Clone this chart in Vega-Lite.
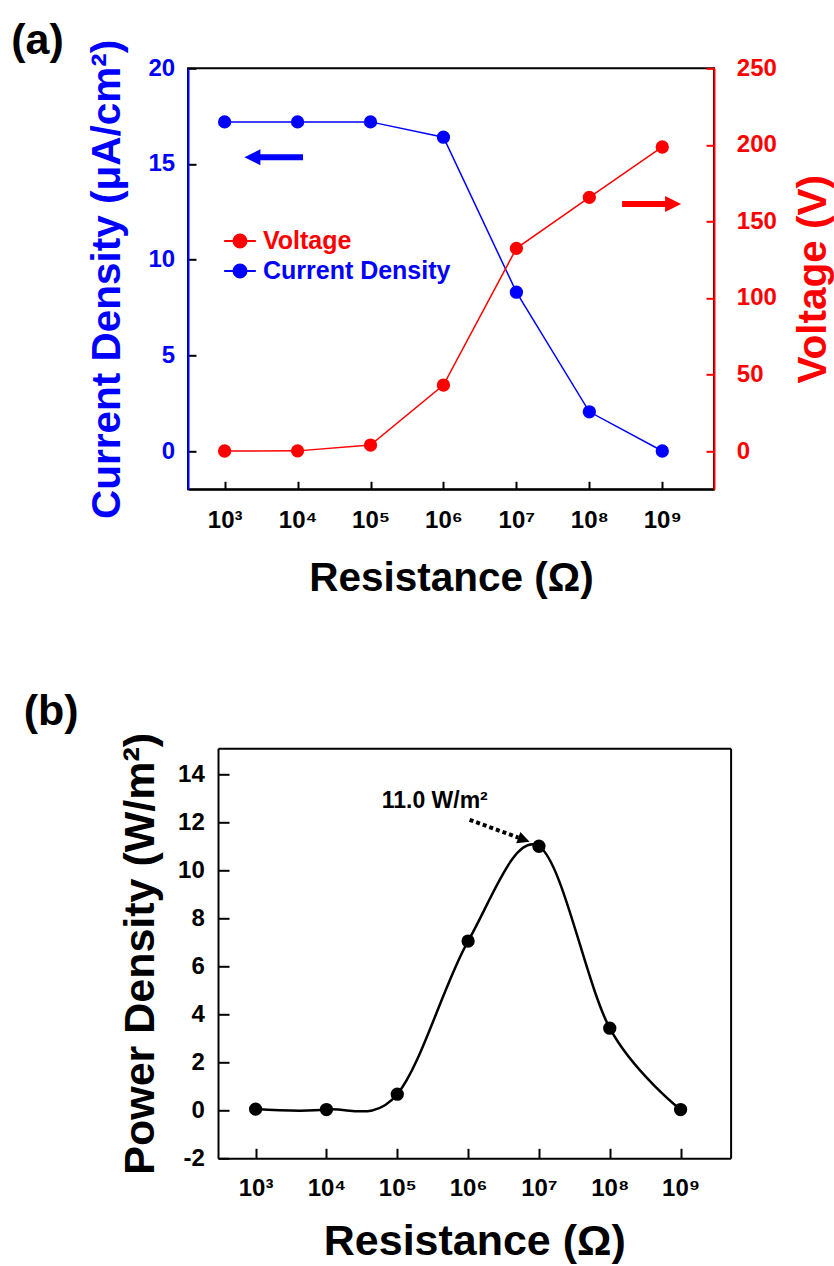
{
  "$schema": "https://vega.github.io/schema/vega-lite/v6.json",
  "background": "white",
  "padding": {"left": 10, "top": 19.3, "right": 5, "bottom": 0},
  "spacing": 90,
  "datasets": {
    "circuit": [
      {"log10R": 3, "current": 17.2, "voltage": 0},
      {"log10R": 4, "current": 17.2, "voltage": 0.1},
      {"log10R": 5, "current": 17.2, "voltage": 3.9},
      {"log10R": 6, "current": 16.4, "voltage": 43.1},
      {"log10R": 7, "current": 8.3, "voltage": 132.4},
      {"log10R": 8, "current": 2.05, "voltage": 165.7},
      {"log10R": 9, "current": 0, "voltage": 198.6}
    ],
    "power": [
      {"log10R": 3, "power": 0.05},
      {"log10R": 4, "power": 0.03},
      {"log10R": 5, "power": 0.67},
      {"log10R": 6, "power": 7.05},
      {"log10R": 7, "power": 11.0},
      {"log10R": 8, "power": 3.42},
      {"log10R": 9, "power": 0.03}
    ]
  },
  "vconcat": [
    {
      "width": 526,
      "height": 421,
      "title": {"text": "(a)", "anchor": "start", "frame": "group", "offset": 0, "dx": -176.7, "dy": 24.2, "baseline": "top", "fontSize": 43, "font": "Liberation Sans", "fontWeight": "bold", "color": "black"},
      "view": {"stroke": "black", "strokeWidth": 2},
      "data": {"name": "circuit"},
      "layer": [
        {
          "mark": {"type": "line", "strokeWidth": 1.5, "point": {"filled": true, "size": 177, "opacity": 1}},
          "encoding": {
            "x": {"field": "log10R", "type": "quantitative",
              "scale": {"domain": [2.498, 9.709], "nice": false, "zero": false},
              "axis": {"orient": "bottom", "values": [3, 4, 5, 6, 7, 8, 9],
                "labelExpr": "'10' + ['⁰','¹','²','³','⁴','⁵','⁶','⁷','⁸','⁹'][datum.value]",
                "title": "Resistance (Ω)", "tickSize": -8, "tickWidth": 2, "tickColor": "black",
                "domainColor": "black", "domainWidth": 2, "labelPadding": 27,
                "labelFontSize": 24, "labelFont": "Liberation Sans", "labelFontWeight": "bold", "labelColor": "black",
                "titleFontSize": 40.5, "titleFont": "Liberation Sans", "titleFontWeight": "bold", "titleColor": "black",
                "titlePadding": 26.5}},
            "y": {"field": "current", "type": "quantitative",
              "scale": {"domain": [-2, 20], "nice": false, "zero": false},
              "axis": {"orient": "left", "values": [0, 5, 10, 15, 20],
                "title": "Current Density (μA/cm²)", "tickSize": -8, "tickWidth": 2, "tickColor": "black",
                "domainColor": "#0000ff", "domainWidth": 2, "labelPadding": 21.4,
                "labelFontSize": 24, "labelFont": "Liberation Sans", "labelFontWeight": "bold", "labelColor": "#0000ff",
                "titleFontSize": 40.5, "titleFont": "Liberation Sans", "titleFontWeight": "bold", "titleColor": "#0000ff",
                "titlePadding": 19}},
            "color": {"datum": "Current Density",
              "scale": {"domain": ["Voltage", "Current Density"], "range": ["#ff0000", "#0000ff"]},
              "legend": {"orient": "none", "legendX": 35, "legendY": 155.7, "title": null, "padding": 0,
                "symbolType": "M-1,0L1,0M-0.41,0A0.41,0.41,0,1,0,0.41,0A0.41,0.41,0,1,0,-0.41,0Z",
                "symbolSize": 1000, "symbolStrokeWidth": 2, "labelFontSize": 25, "labelFont": "Liberation Sans",
                "labelFontWeight": "bold", "labelOffset": 6, "labelLimit": 400, "rowPadding": 0,
                "encode": {
                  "labels": {"update": {"fill": {"scale": "color", "field": "value"}}},
                  "symbols": {"update": {"fill": {"scale": "color", "field": "value"}, "stroke": {"scale": "color", "field": "value"}, "opacity": {"value": 1}}}
                }}}
          }
        },
        {
          "mark": {"type": "line", "strokeWidth": 1.5, "point": {"filled": true, "size": 177, "opacity": 1}},
          "encoding": {
            "x": {"field": "log10R", "type": "quantitative",
              "scale": {"domain": [2.498, 9.709], "nice": false, "zero": false}, "axis": null},
            "y": {"field": "voltage", "type": "quantitative",
              "scale": {"domain": [-25, 250], "nice": false, "zero": false},
              "axis": {"orient": "right", "values": [0, 50, 100, 150, 200, 250],
                "title": "Voltage (V)", "titleAngle": 270, "titleBaseline": "top",
                "tickSize": -8, "tickWidth": 2, "tickColor": "#ff0000",
                "domainColor": "#ff0000", "domainWidth": 2, "labelPadding": 30.3,
                "labelFontSize": 24, "labelFont": "Liberation Sans", "labelFontWeight": "bold", "labelColor": "#ff0000",
                "titleFontSize": 40.5, "titleFont": "Liberation Sans", "titleFontWeight": "bold", "titleColor": "#ff0000",
                "titlePadding": 17}},
            "color": {"datum": "Voltage",
              "scale": {"domain": ["Voltage", "Current Density"], "range": ["#ff0000", "#0000ff"]},
              "legend": {"orient": "none", "legendX": 35, "legendY": 155.7, "title": null, "padding": 0,
                "symbolType": "M-1,0L1,0M-0.41,0A0.41,0.41,0,1,0,0.41,0A0.41,0.41,0,1,0,-0.41,0Z",
                "symbolSize": 1000, "symbolStrokeWidth": 2, "labelFontSize": 25, "labelFont": "Liberation Sans",
                "labelFontWeight": "bold", "labelOffset": 6, "labelLimit": 400, "rowPadding": 0,
                "encode": {
                  "labels": {"update": {"fill": {"scale": "color", "field": "value"}}},
                  "symbols": {"update": {"fill": {"scale": "color", "field": "value"}, "stroke": {"scale": "color", "field": "value"}, "opacity": {"value": 1}}}
                }}}
          }
        },
        {
          "data": {"values": [{}]},
          "mark": {"type": "rule", "color": "#0000ff", "strokeWidth": 6},
          "encoding": {
            "x": {"datum": 4.075, "type": "quantitative", "scale": {"domain": [2.498, 9.709], "nice": false, "zero": false}, "axis": null},
            "x2": {"datum": 3.477},
            "y": {"datum": 15.35, "type": "quantitative", "scale": {"domain": [-2, 20], "nice": false, "zero": false}, "axis": null}
          }
        },
        {
          "data": {"values": [{}]},
          "mark": {"type": "point", "shape": "M0,0L2,-1L2,1Z", "filled": true, "color": "#0000ff", "size": 256, "opacity": 1},
          "encoding": {
            "x": {"datum": 3.271, "type": "quantitative", "scale": {"domain": [2.498, 9.709], "nice": false, "zero": false}, "axis": null},
            "y": {"datum": 15.35, "type": "quantitative", "scale": {"domain": [-2, 20], "nice": false, "zero": false}, "axis": null}
          }
        },
        {
          "data": {"values": [{}]},
          "mark": {"type": "rule", "color": "#ff0000", "strokeWidth": 6},
          "encoding": {
            "x": {"datum": 8.449, "type": "quantitative", "scale": {"domain": [2.498, 9.709], "nice": false, "zero": false}, "axis": null},
            "x2": {"datum": 9.052},
            "y": {"datum": 161.3, "type": "quantitative", "scale": {"domain": [-25, 250], "nice": false, "zero": false}, "axis": null}
          }
        },
        {
          "data": {"values": [{}]},
          "mark": {"type": "point", "shape": "M0,0L-2,-1L-2,1Z", "filled": true, "color": "#ff0000", "size": 256, "opacity": 1},
          "encoding": {
            "x": {"datum": 9.258, "type": "quantitative", "scale": {"domain": [2.498, 9.709], "nice": false, "zero": false}, "axis": null},
            "y": {"datum": 161.3, "type": "quantitative", "scale": {"domain": [-25, 250], "nice": false, "zero": false}, "axis": null}
          }
        }
      ],
      "resolve": {"scale": {"y": "independent"}, "axis": {"x": "independent"}}
    },
    {
      "width": 542.6,
      "height": 410,
      "title": {"text": "(b)", "anchor": "start", "frame": "group", "offset": 0, "dx": -164.3, "dy": 1.8, "baseline": "top", "fontSize": 43, "font": "Liberation Sans", "fontWeight": "bold", "color": "black"},
      "view": {"stroke": null},
      "data": {"name": "power"},
      "layer": [
        {
          "mark": {"type": "line", "interpolate": "cardinal", "color": "black", "strokeWidth": 2.5},
          "encoding": {
            "x": {"field": "log10R", "type": "quantitative",
              "scale": {"domain": [2.469, 9.706], "range": [30, 542.6], "nice": false, "zero": false},
              "axis": {"orient": "bottom", "values": [3, 4, 5, 6, 7, 8, 9],
                "labelExpr": "'10' + ['⁰','¹','²','³','⁴','⁵','⁶','⁷','⁸','⁹'][datum.value]",
                "title": "Resistance (Ω)", "tickSize": -10, "tickWidth": 2, "tickColor": "black",
                "domainColor": "black", "domainWidth": 2, "labelPadding": 28.2,
                "labelFontSize": 24, "labelFont": "Liberation Sans", "labelFontWeight": "bold", "labelColor": "black",
                "titleFontSize": 43, "titleFont": "Liberation Sans", "titleFontWeight": "bold", "titleColor": "black",
                "titlePadding": 20}},
            "y": {"field": "power", "type": "quantitative",
              "scale": {"domain": [-2, 15.08], "nice": false, "zero": false},
              "axis": {"orient": "left", "offset": -30, "values": [-2, 0, 2, 4, 6, 8, 10, 12, 14],
                "labelExpr": "datum.value < 0 ? '-' + abs(datum.value) : '' + datum.value",
                "title": "Power Density (W/m²)", "tickSize": -11, "tickWidth": 2, "tickColor": "black",
                "domainColor": "black", "domainWidth": 2, "labelPadding": 24.7,
                "labelFontSize": 24, "labelFont": "Liberation Sans", "labelFontWeight": "bold", "labelColor": "black",
                "titleFontSize": 43, "titleFont": "Liberation Sans", "titleFontWeight": "bold", "titleColor": "black",
                "titlePadding": 15.6}}
          }
        },
        {
          "mark": {"type": "point", "filled": true, "color": "black", "size": 177, "opacity": 1},
          "encoding": {
            "x": {"field": "log10R", "type": "quantitative",
              "scale": {"domain": [2.469, 9.706], "range": [30, 542.6], "nice": false, "zero": false},
              "axis": {"orient": "top", "labels": false, "ticks": false, "title": null, "domainColor": "black", "domainWidth": 2}},
            "y": {"field": "power", "type": "quantitative",
              "scale": {"domain": [-2, 15.08], "nice": false, "zero": false},
              "axis": {"orient": "right", "labels": false, "ticks": false, "title": null, "domainColor": "black", "domainWidth": 2}}
          }
        },
        {
          "data": {"values": [{}]},
          "mark": {"type": "rule", "color": "black", "strokeWidth": 4, "strokeDash": [4, 3]},
          "encoding": {
            "x": {"datum": 6.021, "type": "quantitative", "scale": {"domain": [2.469, 9.706], "range": [30, 542.6], "nice": false, "zero": false}, "axis": null},
            "x2": {"datum": 6.710},
            "y": {"datum": 12.1, "type": "quantitative", "scale": {"domain": [-2, 15.08], "nice": false, "zero": false}, "axis": null},
            "y2": {"datum": 11.36}
          }
        },
        {
          "data": {"values": [{}]},
          "mark": {"type": "point", "shape": "M0,0L-2,-1L-2,1Z", "filled": true, "color": "black", "size": 144, "angle": 20, "opacity": 1},
          "encoding": {
            "x": {"datum": 6.868, "type": "quantitative", "scale": {"domain": [2.469, 9.706], "range": [30, 542.6], "nice": false, "zero": false}, "axis": null},
            "y": {"datum": 11.19, "type": "quantitative", "scale": {"domain": [-2, 15.08], "nice": false, "zero": false}, "axis": null}
          }
        },
        {
          "data": {"values": [{}]},
          "mark": {"type": "text", "text": "11.0 W/m²", "fontSize": 23, "font": "Liberation Sans", "fontWeight": "bold", "align": "center", "baseline": "middle", "color": "black"},
          "encoding": {
            "x": {"datum": 5.529, "type": "quantitative", "scale": {"domain": [2.469, 9.706], "range": [30, 542.6], "nice": false, "zero": false}, "axis": null},
            "y": {"datum": 12.89, "type": "quantitative", "scale": {"domain": [-2, 15.08], "nice": false, "zero": false}, "axis": null}
          }
        }
      ],
      "resolve": {"axis": {"x": "independent", "y": "independent"}}
    }
  ],
  "config": {
    "font": "Liberation Sans",
    "axis": {"grid": false, "labelOverlap": false, "labelFlush": false, "labelBound": false}
  }
}
